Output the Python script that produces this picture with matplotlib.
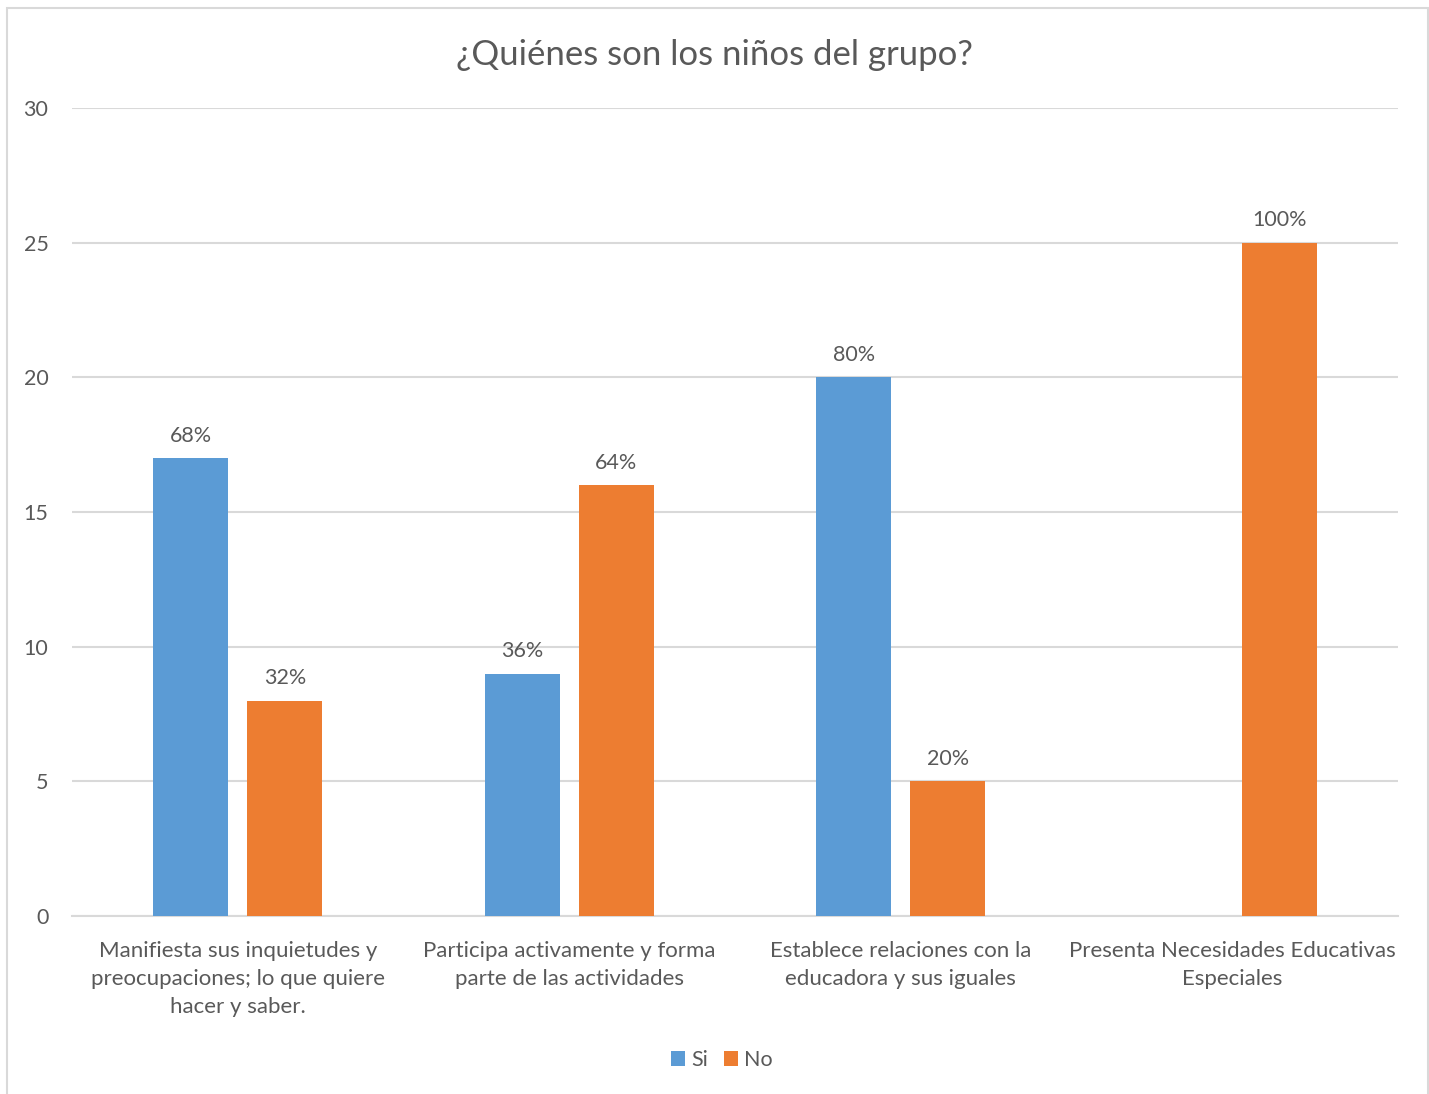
import numpy as np
from matplotlib import pyplot as plt
from matplotlib.patches import Rectangle

categories = ["Manifiesta sus inquietudes y\npreocupaciones; lo que quiere\nhacer y saber.",
              "Participa activamente y forma\nparte de las actividades",
              "Establece relaciones con la\neducadora y sus iguales",
              "Presenta Necesidades Educativas\nEspeciales"]
si_values = [17, 9, 20, 0]
no_values = [8, 16, 5, 25]
si_labels = ["68%", "36%", "80%", ""]
no_labels = ["32%", "64%", "20%", "100%"]
yticks = [0, 5, 10, 15, 20, 25, 30]

BLUE = "#5b9bd5"
ORANGE = "#ed7d31"
TEXT = "#595959"

plt.rcParams['font.family'] = ['Lato', 'DejaVu Sans']

fig = plt.figure(figsize=(14.29, 10.94), dpi=100)
ax = fig.add_axes([72 / 1429, 1 - 916 / 1094, (1398 - 72) / 1429, (916 - 108) / 1094])

# chart border
fig.patches.append(Rectangle((7 / 1429, -0.01), (1428 - 7) / 1429, 1 - 8 / 1094 + 0.01,
                             transform=fig.transFigure, fill=False,
                             edgecolor="#d9d9d9", linewidth=1.5))

x = np.arange(len(categories))
w = 0.226
off = 0.142
ax.bar(x - off, si_values, w, color=BLUE, label="Si", zorder=3)
ax.bar(x + off, no_values, w, color=ORANGE, label="No", zorder=3)

for xi, v, lab in zip(x, si_values, si_labels):
    if lab:
        ax.annotate(lab, (xi - off, v), xytext=(0, 9), textcoords="offset points",
                    ha="center", va="bottom", fontsize=15.5, color=TEXT)
for xi, v, lab in zip(x, no_values, no_labels):
    ax.annotate(lab, (xi + off, v), xytext=(0, 9), textcoords="offset points",
                ha="center", va="bottom", fontsize=15.5, color=TEXT)

ax.set_xlim(-0.5, len(categories) - 0.5)
ax.set_ylim(0, 30)
ax.set_yticks(yticks)
ax.set_xticks(x)
ax.set_xticklabels(categories, fontsize=16, color=TEXT, linespacing=1.5)
ax.tick_params(axis="y", length=0, pad=17, labelsize=15.5, labelcolor=TEXT)
ax.tick_params(axis="x", length=0, pad=18)
ax.grid(axis="y", color="#d9d9d9", linewidth=1.5, zorder=0)
for s in ["top", "right", "left"]:
    ax.spines[s].set_visible(False)
ax.spines["bottom"].set_color("#d9d9d9")
ax.spines["bottom"].set_linewidth(1.5)

fig.text(0.5, 1 - 55 / 1094, "¿Quiénes son los niños del grupo?", ha="center", va="center",
         fontsize=25, color=TEXT)

fig.legend(loc="center", bbox_to_anchor=(722 / 1429, 1 - 1060 / 1094), ncol=2, frameon=False,
           fontsize=15.5, labelcolor=TEXT, handlelength=0.65, handleheight=0.65,
           handletextpad=0.3, columnspacing=0.7)

fig.savefig("out.png", dpi=100)
